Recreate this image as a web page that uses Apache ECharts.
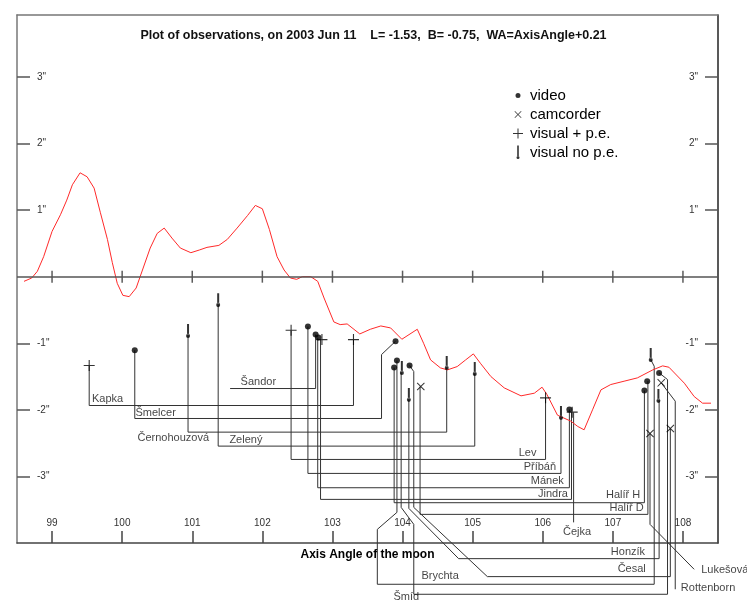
<!DOCTYPE html>
<html>
<head>
    <meta charset="utf-8"/>
    <title>Plot of observations</title>
    <script src="https://cdn.jsdelivr.net/npm/echarts@6/dist/echarts.min.js"></script>
    <style>
        html, body { margin: 0; padding: 0; background: #fff; }
        #chart { width: 747px; height: 602px; }
    </style>
</head>
<body>
<div id="chart"></div>
<script>
    // axis ticks
    var xTicks = [99, 100, 101, 102, 103, 104, 105, 106, 107, 108];
    var yTicks = [-3, -2, -1, 1, 2, 3];

    // limb profile (axis angle, arcsec)
    var profile = [[98.60, -0.07], [98.71, -0.02], [98.79, 0.08], [98.88, 0.30], [99.00, 0.68], [99.12, 0.93],
        [99.21, 1.15], [99.29, 1.38], [99.40, 1.56], [99.50, 1.50], [99.60, 1.33], [99.69, 0.96], [99.79, 0.56],
        [99.86, 0.21], [99.93, -0.10], [100.01, -0.28], [100.10, -0.30], [100.20, -0.17], [100.29, 0.10],
        [100.40, 0.43], [100.50, 0.65], [100.60, 0.73], [100.71, 0.58], [100.83, 0.43], [100.98, 0.36],
        [101.10, 0.40], [101.21, 0.44], [101.38, 0.47], [101.50, 0.56], [101.64, 0.73], [101.79, 0.92],
        [101.90, 1.07], [102.00, 1.02], [102.10, 0.71], [102.21, 0.30], [102.31, 0.10], [102.40, -0.02],
        [102.49, -0.04], [102.57, 0.00], [102.69, 0.00], [102.79, -0.07], [102.88, -0.32], [103.02, -0.68],
        [103.11, -0.72], [103.21, -0.71], [103.39, -0.86], [103.54, -0.79], [103.69, -0.74], [103.83, -0.77],
        [103.99, -0.94], [104.21, -0.79], [104.30, -1.00], [104.40, -1.25], [104.54, -1.37], [104.64, -1.40],
        [104.78, -1.35], [104.90, -1.25], [105.01, -1.16], [105.11, -1.30], [105.26, -1.50], [105.45, -1.67],
        [105.69, -1.79], [105.88, -1.75], [105.99, -1.66], [106.06, -1.77], [106.21, -2.08], [106.40, -2.17],
        [106.50, -2.25], [106.59, -2.30], [106.71, -2.00], [106.83, -1.70], [106.97, -1.62], [107.16, -1.57],
        [107.35, -1.52], [107.57, -1.40], [107.71, -1.34], [107.80, -1.36], [108.02, -1.60], [108.16, -1.80],
        [108.28, -1.90], [108.40, -1.90]];

    // observations by method
    var video = [[100.18, -1.105], [102.65, -0.75], [102.76, -0.87], [102.80, -0.915], [103.90, -0.97],
        [103.92, -1.26], [103.88, -1.365], [104.10, -1.335], [106.38, -1.995], [107.45, -1.71],
        [107.49, -1.57], [107.66, -1.445]];
    var camcorder = [[104.26, -1.65], [107.53, -2.355], [107.69, -1.595], [107.82, -2.28]];
    var visualPe = [[99.53, -1.335], [102.41, -0.805], [102.85, -0.945], [103.30, -0.945], [106.04, -1.82],
        [106.42, -2.035]];
    var visualNoPe = [[100.94, -0.885], [101.37, -0.42], [103.99, -1.44], [104.09, -1.845], [104.63, -1.365],
        [105.03, -1.455], [106.26, -2.115], [107.54, -1.245], [107.65, -1.86]];

    // leader lines from observations to names
    var leaderPaths = [
        [[99.53, -1.335], [99.53, -1.935], [103.30, -1.935], [103.30, -0.945]],
        [[100.18, -1.105], [100.18, -2.13], [103.70, -2.13], [103.70, -1.17], [103.90, -0.97]],
        [[101.54, -1.68], [102.76, -1.68], [102.76, -0.87]],
        [[100.94, -0.885], [100.94, -2.335], [104.63, -2.335], [104.63, -1.365]],
        [[101.37, -0.42], [101.37, -2.545], [105.03, -2.545], [105.03, -1.455]],
        [[102.41, -0.81], [102.41, -2.745], [106.04, -2.745], [106.04, -1.815]],
        [[102.65, -0.75], [102.65, -2.955], [106.26, -2.955], [106.26, -2.115]],
        [[102.79, -0.915], [102.79, -3.17], [106.38, -3.17], [106.38, -1.995]],
        [[102.83, -0.945], [102.83, -3.345], [106.41, -3.345], [106.41, -2.035]],
        [[106.44, -2.04], [106.44, -3.69]],
        [[103.88, -1.365], [103.88, -3.395], [107.45, -3.395], [107.45, -1.71]],
        [[104.25, -1.65], [104.25, -3.57], [107.50, -3.57], [107.50, -1.57]],
        [[103.92, -1.26], [103.92, -3.54], [103.64, -3.795], [103.64, -4.62], [107.59, -4.62], [107.59, -1.345], [107.54, -1.245]],
        [[103.98, -1.44], [103.98, -3.465], [104.16, -3.72], [104.16, -4.77], [107.78, -4.77], [107.78, -1.545], [107.66, -1.445]],
        [[104.09, -1.845], [104.09, -3.48], [104.80, -4.235], [107.66, -4.235], [107.66, -1.86]],
        [[104.10, -1.335], [104.16, -1.425], [104.16, -3.465], [105.21, -4.505], [107.82, -4.505], [107.82, -2.28]],
        [[107.53, -2.355], [107.53, -3.72], [108.16, -4.395]],
        [[107.69, -1.595], [107.89, -1.87], [107.89, -4.695]]
    ];

    // observer names: [name, x, y, side]
    var names = [
        ['Kapka', 99.57, -1.83, 'left'],
        ['Šmelcer', 100.19, -2.04, 'left'],
        ['Šandor', 101.69, -1.575, 'left'],
        ['Černohouzová', 101.24, -2.43, 'right'],
        ['Zelený', 101.53, -2.46, 'left'],
        ['Lev', 105.91, -2.655, 'right'],
        ['Příbáň', 106.19, -2.865, 'right'],
        ['Mánek', 106.30, -3.075, 'right'],
        ['Jindra', 106.36, -3.27, 'right'],
        ['Halíř H', 107.39, -3.285, 'right'],
        ['Halíř D', 107.44, -3.48, 'right'],
        ['Čejka', 106.49, -3.84, 'center'],
        ['Honzík', 107.46, -4.14, 'right'],
        ['Česal', 107.47, -4.395, 'right'],
        ['Brychta', 104.27, -4.5, 'left'],
        ['Šmíd', 103.87, -4.815, 'left'],
        ['Lukešová', 108.26, -4.41, 'left'],
        ['Rottenborn', 107.97, -4.68, 'left']
    ];

    var font = '"Liberation Sans", Arial, sans-serif';

    // marker shapes
    var crossSym = 'path://M0,0.7 L0.7,0 L4,3.3 L7.3,0 L8,0.7 L4.7,4 L8,7.3 L7.3,8 L4,4.7 L0.7,8 L0,7.3 L3.3,4 Z';
    var plusSym = 'path://M4.5,0 H5.5 V4.5 H10 V5.5 H5.5 V10 H4.5 V5.5 H0 V4.5 H4.5 Z';
    var bangSym = 'path://M1,0 H3 V9.5 H1 Z M0,11 A2,2 0 1,0 4,11 A2,2 0 1,0 0,11 Z';
    // legend icons padded to a 14x14 box
    var pad = 'M0,0 L0.01,0 L0,0.01 Z M14,14 L13.99,14 L14,13.99 Z ';
    var legDot = 'path://' + pad + 'M4.5,7 A2.5,2.5 0 1,0 9.5,7 A2.5,2.5 0 1,0 4.5,7 Z';
    var legCross = 'path://' + pad + 'M3.5,4 L4,3.5 L7,6.5 L10,3.5 L10.5,4 L7.5,7 L10.5,10 L10,10.5 L7,7.5 L4,10.5 L3.5,10 L6.5,7 Z';
    var legPlus = 'path://' + pad + 'M6.5,2 H7.5 V6.5 H12 V7.5 H7.5 V12 H6.5 V7.5 H2 V6.5 H6.5 Z';
    var legBang = 'path://' + pad + 'M6.2,0 H7.8 V10.5 H6.2 Z M5.5,12 A1.5,1.5 0 1,0 8.5,12 A1.5,1.5 0 1,0 5.5,12 Z';

    var sideToPos = {left: 'right', right: 'left', center: 'inside'};

    var myChart = echarts.init(document.getElementById('chart'), null, {renderer: 'canvas'});

    var yAxisBase = function (pos, lineColor) {
        return {
            type: 'value',
            position: pos,
            min: -4,
            max: 3.93,
            axisLine: {show: true, onZero: false, lineStyle: {color: lineColor, width: 1.5}},
            axisTick: {show: true, inside: true, length: 13, customValues: yTicks, lineStyle: {color: '#555', width: 1.5}},
            axisLabel: {
                show: true, inside: true, margin: 20, customValues: yTicks,
                color: '#333', fontSize: 10, fontFamily: font,
                formatter: function (v) { return v + '"'; }
            },
            splitLine: {show: false}
        };
    };

    var option = {
        animation: false,
        backgroundColor: '#fff',
        title: {
            text: 'Plot of observations, on 2003 Jun 11    L= -1.53,  B= -0.75,  WA=AxisAngle+0.21',
            left: 'center',
            top: 24,
            textStyle: {fontSize: 12.5, fontWeight: 'bold', color: '#111', fontFamily: font}
        },
        legend: {
            orient: 'vertical',
            left: 506,
            top: 83,
            itemWidth: 14,
            itemHeight: 14,
            itemGap: 4,
            textStyle: {fontSize: 15, color: '#000', fontFamily: font},
            data: [
                {name: 'video', icon: legDot},
                {name: 'camcorder', icon: legCross},
                {name: 'visual + p.e.', icon: legPlus},
                {name: 'visual no p.e.', icon: legBang}
            ]
        },
        grid: {left: 17, right: 29, top: 15, bottom: 59, containLabel: false},
        xAxis: [{
            type: 'value',
            position: 'bottom',
            min: 98.5,
            max: 108.5,
            name: 'Axis Angle of the moon',
            nameLocation: 'middle',
            nameGap: 4,
            nameTextStyle: {fontSize: 12, fontWeight: 'bold', color: '#000', fontFamily: font, verticalAlign: 'top'},
            axisLine: {show: true, onZero: false, lineStyle: {color: '#444', width: 1.5}},
            axisTick: {show: true, inside: true, length: 12, customValues: xTicks, lineStyle: {color: '#444', width: 1.5}},
            axisLabel: {show: true, inside: true, margin: 15, customValues: xTicks, color: '#333', fontSize: 10, fontFamily: font},
            splitLine: {show: false}
        }, {
            type: 'value',
            position: 'top',
            min: 98.5,
            max: 108.5,
            axisLine: {show: true, onZero: false, lineStyle: {color: '#777', width: 1.5}},
            axisTick: {show: false},
            axisLabel: {show: false},
            splitLine: {show: false}
        }],
        yAxis: [yAxisBase('left', '#777'), yAxisBase('right', '#222')],
        series: [{
            name: 'profile',
            type: 'line',
            data: profile,
            showSymbol: false,
            lineStyle: {color: '#ff2a2a', width: 1},
            z: 3,
            markLine: {
                silent: true,
                symbol: 'none',
                label: {show: false},
                lineStyle: {color: '#555', width: 1.5, type: 'solid'},
                data: [{yAxis: 0}]
            }
        }, {
            name: 'zeroTicks',
            type: 'scatter',
            data: xTicks.map(function (v) { return [v, 0]; }),
            symbol: 'rect',
            symbolSize: [1.5, 12],
            itemStyle: {color: '#333'},
            silent: true,
            z: 2
        }, {
            name: 'leaders',
            type: 'lines',
            coordinateSystem: 'cartesian2d',
            polyline: true,
            clip: false,
            silent: true,
            lineStyle: {color: '#333', width: 1, opacity: 1},
            data: leaderPaths.map(function (p) { return {coords: p}; }),
            z: 2
        }, {
            name: 'video',
            type: 'scatter',
            data: video,
            symbol: 'circle',
            symbolSize: 6,
            itemStyle: {color: '#000'},
            z: 5
        }, {
            name: 'camcorder',
            type: 'scatter',
            data: camcorder,
            symbol: crossSym,
            symbolSize: 8,
            itemStyle: {color: '#000'},
            z: 5
        }, {
            name: 'visual + p.e.',
            type: 'scatter',
            data: visualPe,
            symbol: plusSym,
            symbolSize: 11,
            itemStyle: {color: '#000'},
            z: 5
        }, {
            name: 'visual no p.e.',
            type: 'scatter',
            data: visualNoPe,
            symbol: bangSym,
            symbolSize: [4, 14],
            symbolKeepAspect: false,
            symbolOffset: [0, -4.5],
            itemStyle: {color: '#000'},
            z: 5
        }, {
            name: 'names',
            type: 'scatter',
            clip: false,
            silent: true,
            symbolSize: 0,
            data: names.map(function (n) {
                return {
                    name: n[0],
                    value: [n[1], n[2]],
                    label: {position: sideToPos[n[3]]}
                };
            }),
            label: {
                show: true,
                distance: 0,
                formatter: '{b}',
                fontSize: 11,
                color: '#111',
                fontFamily: font
            },
            z: 6
        }]
    };

    myChart.setOption(option);

    window.onresize = function () {
        myChart.resize();
    };
</script>
</body>
</html>
